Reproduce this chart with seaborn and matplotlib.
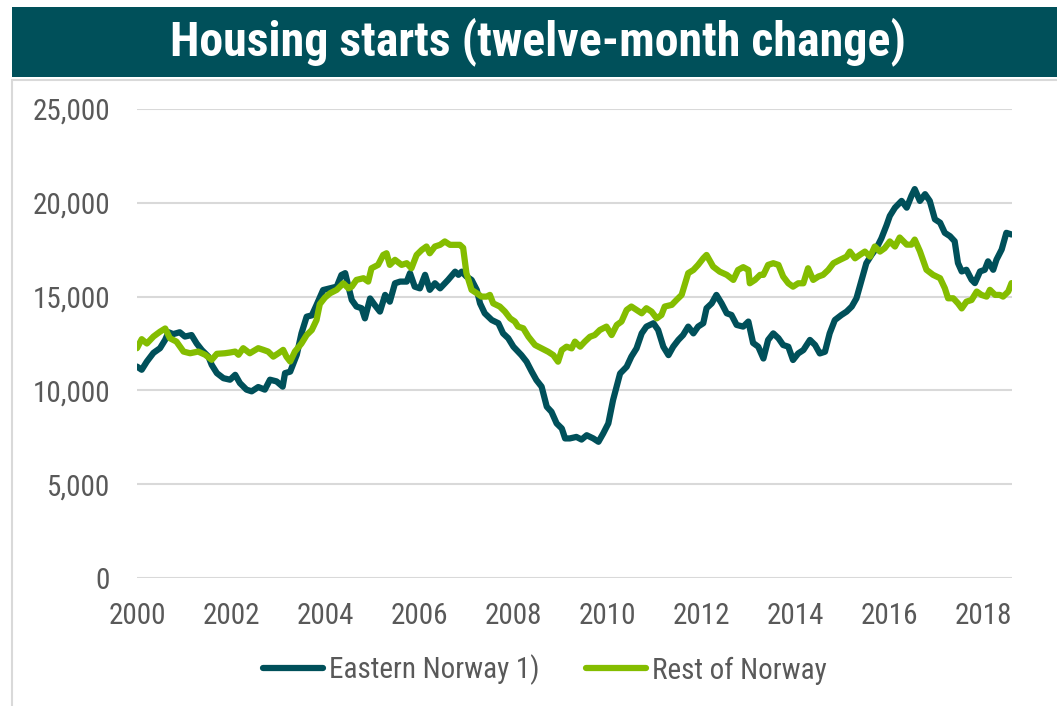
import pandas as pd
import matplotlib.pyplot as plt
import seaborn as sns
from matplotlib.patches import Rectangle

# Data (decimal year, housing starts, 12-month sum)
east_years = [
    2000.00, 2000.10, 2000.21, 2000.35, 2000.49, 2000.60, 2000.67, 2000.77, 2000.91, 2001.02,
    2001.16, 2001.27, 2001.38, 2001.52, 2001.59, 2001.70, 2001.84, 2001.98, 2002.09, 2002.19,
    2002.33, 2002.44, 2002.58, 2002.72, 2002.83, 2002.97, 2003.10, 2003.15, 2003.26, 2003.40,
    2003.50, 2003.61, 2003.72, 2003.82, 2003.96, 2004.11, 2004.25, 2004.35, 2004.43, 2004.50,
    2004.57, 2004.67, 2004.78, 2004.85, 2004.96, 2005.06, 2005.17, 2005.28, 2005.38, 2005.49,
    2005.60, 2005.74, 2005.81, 2005.91, 2006.02, 2006.13, 2006.23, 2006.34, 2006.45, 2006.62,
    2006.77, 2006.84, 2006.91, 2007.01, 2007.12, 2007.23, 2007.30, 2007.40, 2007.55, 2007.69,
    2007.79, 2007.90, 2008.01, 2008.18, 2008.29, 2008.40, 2008.50, 2008.61, 2008.72, 2008.82,
    2008.93, 2009.04, 2009.11, 2009.21, 2009.35, 2009.46, 2009.57, 2009.71, 2009.82, 2009.92,
    2010.03, 2010.13, 2010.28, 2010.42, 2010.52, 2010.63, 2010.74, 2010.84, 2010.99, 2011.09,
    2011.20, 2011.31, 2011.41, 2011.52, 2011.62, 2011.73, 2011.84, 2011.94, 2012.05, 2012.12,
    2012.23, 2012.33, 2012.44, 2012.55, 2012.65, 2012.76, 2012.90, 2013.01, 2013.11, 2013.22,
    2013.33, 2013.43, 2013.54, 2013.65, 2013.75, 2013.86, 2013.96, 2014.07, 2014.18, 2014.32,
    2014.43, 2014.53, 2014.64, 2014.74, 2014.85, 2014.99, 2015.10, 2015.21, 2015.31, 2015.42,
    2015.52, 2015.63, 2015.74, 2015.84, 2015.95, 2016.02, 2016.13, 2016.27, 2016.38, 2016.48,
    2016.55, 2016.66, 2016.77, 2016.87, 2016.98, 2017.09, 2017.19, 2017.30, 2017.40, 2017.47,
    2017.55, 2017.65, 2017.76, 2017.83, 2017.94, 2018.04, 2018.11, 2018.22, 2018.29, 2018.40,
    2018.50, 2018.61,
]
east_values = [
    11270, 11100, 11540, 12000, 12250, 12700, 13100, 13000, 13100, 12870,
    12950, 12500, 12150, 11800, 11360, 10920, 10650, 10570, 10830, 10390,
    10040, 9950, 10180, 10040, 10570, 10480, 10200, 10920, 11000, 11900,
    13040, 13930, 14000, 14550, 15350, 15440, 15530, 16150, 16250, 15530,
    14820, 14470, 14380, 13840, 14900, 14550, 14200, 15090, 14730, 15710,
    15800, 15800, 16250, 15530, 15440, 16160, 15360, 15710, 15440, 15890,
    16330, 16160, 16330, 16070, 15890, 15360, 14640, 14110, 13750, 13580,
    13040, 12780, 12330, 11880, 11530, 11000, 10550, 10200, 9130, 8860,
    8240, 7970, 7440, 7440, 7520, 7380, 7610, 7440, 7260, 7700,
    8240, 9480, 10900, 11260, 11800, 12240, 13040, 13400, 13580, 13220,
    12330, 11880, 12330, 12690, 12950, 13400, 13040, 13400, 13580, 14380,
    14640, 15090, 14640, 14110, 14020, 13490, 13400, 13670, 12530, 12330,
    11700, 12690, 13040, 12780, 12420, 12330, 11620, 11970, 12150, 12690,
    12420, 11970, 12060, 13040, 13750, 14020, 14200, 14470, 14910, 15890,
    16780, 17220, 17600, 18100, 18800, 19300, 19740, 20100, 19740, 20370,
    20730, 20100, 20460, 20100, 19120, 18940, 18400, 18220, 17950, 16790,
    16340, 16430, 15900, 15720, 16340, 16430, 16880, 16430, 16970, 17510,
    18400, 18310,
]

rest_years = [
    2000.00, 2000.10, 2000.21, 2000.35, 2000.49, 2000.60, 2000.70, 2000.84, 2000.99, 2001.13,
    2001.30, 2001.45, 2001.59, 2001.70, 2001.87, 2001.98, 2002.09, 2002.16, 2002.26, 2002.40,
    2002.58, 2002.69, 2002.79, 2002.90, 2003.01, 2003.11, 2003.18, 2003.26, 2003.36, 2003.50,
    2003.61, 2003.72, 2003.82, 2003.89, 2004.00, 2004.11, 2004.25, 2004.39, 2004.50, 2004.57,
    2004.67, 2004.82, 2004.92, 2004.99, 2005.13, 2005.24, 2005.31, 2005.38, 2005.49, 2005.63,
    2005.74, 2005.84, 2005.95, 2006.06, 2006.16, 2006.23, 2006.34, 2006.45, 2006.55, 2006.66,
    2006.77, 2006.87, 2006.94, 2007.01, 2007.12, 2007.23, 2007.33, 2007.44, 2007.51, 2007.58,
    2007.72, 2007.83, 2007.94, 2008.04, 2008.11, 2008.22, 2008.33, 2008.47, 2008.61, 2008.75,
    2008.86, 2008.96, 2009.04, 2009.14, 2009.25, 2009.32, 2009.43, 2009.53, 2009.64, 2009.74,
    2009.85, 2009.99, 2010.10, 2010.21, 2010.31, 2010.42, 2010.52, 2010.63, 2010.74, 2010.84,
    2010.95, 2011.06, 2011.16, 2011.23, 2011.38, 2011.48, 2011.59, 2011.73, 2011.84, 2011.94,
    2012.05, 2012.12, 2012.26, 2012.40, 2012.55, 2012.69, 2012.79, 2012.90, 2013.01, 2013.04,
    2013.15, 2013.26, 2013.33, 2013.43, 2013.54, 2013.65, 2013.75, 2013.86, 2013.96, 2014.07,
    2014.18, 2014.28, 2014.39, 2014.50, 2014.60, 2014.71, 2014.82, 2014.96, 2015.10, 2015.17,
    2015.28, 2015.38, 2015.49, 2015.60, 2015.70, 2015.81, 2015.91, 2016.02, 2016.13, 2016.23,
    2016.38, 2016.48, 2016.55, 2016.66, 2016.80, 2016.94, 2017.09, 2017.19, 2017.26, 2017.37,
    2017.47, 2017.55, 2017.65, 2017.76, 2017.87, 2017.97, 2018.08, 2018.15, 2018.26, 2018.36,
    2018.43, 2018.54, 2018.61,
]
rest_values = [
    12250, 12730, 12500, 12870, 13130, 13300, 12780, 12600, 12070, 11980,
    12070, 11900, 11630, 11950, 11980, 12020, 12070, 11900, 12250, 11980,
    12250, 12160, 12070, 11800, 11980, 12160, 11800, 11540, 12070, 12500,
    12950, 13220, 13750, 14600, 14950, 15180, 15360, 15710, 15440, 15530,
    15890, 15980, 15800, 16510, 16690, 17220, 17310, 16690, 16960, 16690,
    16780, 16510, 17220, 17490, 17670, 17310, 17670, 17760, 17940, 17760,
    17760, 17760, 17600, 16250, 15360, 15180, 15000, 15000, 15090, 14640,
    14470, 14200, 13840, 13670, 13400, 13310, 12860, 12420, 12240, 12060,
    11880, 11530, 12150, 12330, 12240, 12600, 12330, 12600, 12860, 12950,
    13220, 13400, 12950, 13490, 13670, 14290, 14470, 14290, 14110, 14380,
    14200, 13840, 14020, 14470, 14560, 14820, 15090, 16250, 16420, 16690,
    17040, 17220, 16600, 16330, 16160, 15890, 16420, 16570, 16420, 15710,
    15890, 16160, 16160, 16690, 16780, 16690, 16070, 15710, 15530, 15710,
    15710, 16510, 15890, 16070, 16160, 16420, 16780, 16960, 17130, 17400,
    17040, 17220, 17400, 17130, 17670, 17400, 17580, 17940, 17670, 18150,
    17770, 17770, 18040, 17420, 16430, 16160, 15980, 15450, 14910, 14910,
    14640, 14370, 14730, 14820, 15270, 15090, 15000, 15360, 15090, 15090,
    15000, 15270, 15720,
]

series_names = ["Eastern Norway 1)", "Rest of Norway"]
y_ticks = [0, 5000, 10000, 15000, 20000, 25000]
x_ticks = list(range(2000, 2019, 2))

DARK = "#00505A"
GREEN = "#84BD00"
GREY_TXT = "#595959"

sns.set_theme(style="white")
plt.rcParams['font.family'] = ['Roboto Condensed', 'Liberation Sans Narrow', 'Roboto', 'DejaVu Sans']

df = pd.concat([
    pd.DataFrame({'year': east_years, 'value': east_values, 'series': series_names[0]}),
    pd.DataFrame({'year': rest_years, 'value': rest_values, 'series': series_names[1]}),
], ignore_index=True)

fig = plt.figure(figsize=(10.57, 7.06), dpi=100)
fig.patch.set_facecolor('white')

# title banner and frame
fig.patches.append(Rectangle((12 / 1057, 1 - 77 / 706), 1, 70 / 706, transform=fig.transFigure,
                             facecolor=DARK, edgecolor='none', zorder=0))
fig.patches.append(Rectangle((12 / 1057, -0.05), 1.0, 1 - 80 / 706 + 0.05, transform=fig.transFigure,
                             facecolor='none', edgecolor='#D9D9D9', linewidth=1.5, zorder=0))
fig.text(538 / 1057, 1 - 42 / 706, "Housing starts (twelve-month change)", color='white',
         fontsize=34.5, fontweight='bold', ha='center', va='center')

ax = fig.add_axes([137 / 1057, 128 / 706, (1012 - 137) / 1057, (578 - 109) / 706])
sns.lineplot(data=df, x='year', y='value', hue='series', palette=[DARK, GREEN],
             estimator=None, sort=False, linewidth=4.5, ax=ax)

ax.set_xlim(2000, 2018.62)
ax.set_ylim(0, 25000)
ax.set_yticks(y_ticks)
ax.set_yticklabels([f"{v:,}" for v in y_ticks])
ax.set_xticks(x_ticks)
ax.set_xticklabels([str(x) for x in x_ticks])
ax.grid(axis='y', color='#D9D9D9', linewidth=1.5)
ax.grid(axis='x', visible=False)
ax.set_axisbelow(True)
for s in ax.spines.values():
    s.set_visible(False)
ax.tick_params(axis='both', length=0, labelsize=21, labelcolor=GREY_TXT)
ax.tick_params(axis='y', pad=19.5)
ax.tick_params(axis='x', pad=17)
ax.set_xlabel('')
ax.set_ylabel('')

ax.legend(loc='center', bbox_to_anchor=(545 / 1057, 1 - 670 / 706), bbox_transform=fig.transFigure,
          ncol=2, frameon=False, fontsize=21, handlelength=2.05, handletextpad=0.2,
          columnspacing=1.6, labelcolor=GREY_TXT)

fig.savefig('out.png', dpi=100)
